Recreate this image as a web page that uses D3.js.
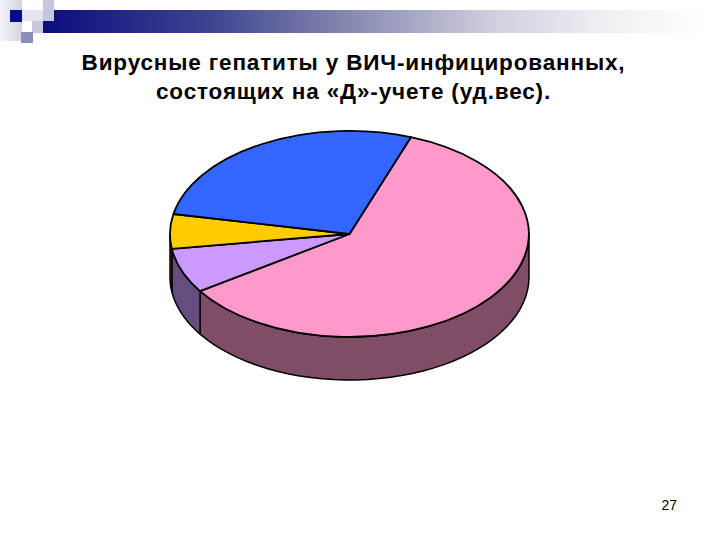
<!DOCTYPE html>
<html><head><meta charset="utf-8">
<script src="https://cdn.jsdelivr.net/npm/d3@7/dist/d3.min.js"></script>
<style>html,body{margin:0;padding:0;background:#fff}svg{display:block}</style>
</head><body><svg id="c" width="720" height="540"></svg>
<script>
const titleLines = ["Вирусные гепатиты у ВИЧ-инфицированных,", "состоящих на «Д»-учете (уд.вес)."];
const pageNumber = "27";
const categories = ["Категория 1", "Категория 2", "Категория 3", "Категория 4"];
const shares = [60.1, 7.05, 5.4, 27.45];
const topColors = ["#ff99cc", "#cc99ff", "#ffcc00", "#3366ff"];
const wallColors = ["#804d66", "#664d80", "#806600", "#1a3380"];

const svg = d3.select("#c");
const defs = svg.append("defs");
const grad = defs.append("linearGradient").attr("id", "band");
[[0, "#0c0c7e"], [0.25, "#3d4490"], [0.45, "#8385ae"], [0.68, "#d0d0e0"], [0.85, "#f0f0f4"], [1, "#ffffff"]]
  .forEach(([o, c]) => grad.append("stop").attr("offset", o).attr("stop-color", c));
const fade = defs.append("linearGradient").attr("id", "fade").attr("x1", 0).attr("x2", 1);
fade.append("stop").attr("offset", 0).attr("stop-color", "#f4f4f8");
fade.append("stop").attr("offset", 1).attr("stop-color", "#d4d4e2");

// Slide decoration
svg.append("rect").attr("x", 43).attr("y", 10).attr("width", 665).attr("height", 23).attr("fill", "url(#band)");
svg.append("rect").attr("x", 0).attr("y", 0).attr("width", 22).attr("height", 41).attr("fill", "url(#fade)");
svg.append("rect").attr("x", 22).attr("y", 10).attr("width", 32).attr("height", 11).attr("fill", "#e4e4ee");
svg.append("rect").attr("x", 43).attr("y", 0).attr("width", 11).attr("height", 21).attr("fill", "#c6c6dc");
svg.append("rect").attr("x", 32).attr("y", 21).attr("width", 11).attr("height", 12).attr("fill", "#c8c8dc");
svg.append("rect").attr("x", 21).attr("y", 32).attr("width", 12).attr("height", 11).attr("fill", "#8a8ebc");
svg.append("rect").attr("x", 10).attr("y", 10).attr("width", 12).attr("height", 12).attr("fill", "#0a0a8c");

// Title
svg.append("g").selectAll("text").data(titleLines).join("text")
  .attr("x", 353.5).attr("y", (d, i) => 70 + i * 29)
  .attr("text-anchor", "middle")
  .attr("font-family", "Liberation Sans").attr("font-weight", "bold").attr("font-size", 22.5)
  .attr("letter-spacing", 0.85).attr("fill", "#000").text(d => d);

// Pie
const cx = 349.5, cy = 234, rx = 179.5, ry = 103, depth = 43;
const startA = 20 * Math.PI / 180;
const arcs = d3.pie().sort(null).startAngle(startA).endAngle(startA + 2 * Math.PI)(shares);
const px = a => cx + rx * Math.sin(a), py = a => cy - ry * Math.cos(a);
const line = d3.line();
const sample = (a0, a1) => d3.range(0, 41).map(i => a0 + (a1 - a0) * i / 40);

// Side walls: only the front half (90..270 deg) is visible
const wall = svg.append("g");
arcs.forEach((d, i) => {
  const a0 = Math.max(d.startAngle, Math.PI / 2), a1 = Math.min(d.endAngle, 3 * Math.PI / 2);
  if (a1 <= a0) return;
  const s = sample(a0, a1);
  const pts = s.map(a => [px(a), py(a)]).concat(s.slice().reverse().map(a => [px(a), py(a) + depth]));
  wall.append("path").attr("d", line(pts) + "Z").attr("fill", wallColors[i])
    .attr("stroke", "#000").attr("stroke-width", 1.5).attr("stroke-linejoin", "round");
});

// Top slices: unit-radius arc scaled into an ellipse
const arcGen = d3.arc().innerRadius(0).outerRadius(1);
svg.append("g").attr("transform", `translate(${cx},${cy}) scale(${rx},${ry})`)
  .selectAll("path").data(arcs).join("path")
  .attr("d", arcGen).attr("fill", (d, i) => topColors[i])
  .attr("stroke", "#000").attr("stroke-width", 1.8).attr("stroke-linejoin", "round")
  .attr("vector-effect", "non-scaling-stroke");

// Page number
svg.append("text").attr("x", 677).attr("y", 510).attr("text-anchor", "end")
  .attr("font-family", "Liberation Sans").attr("font-size", 14).attr("fill", "#000").text(pageNumber);
</script></body></html>
